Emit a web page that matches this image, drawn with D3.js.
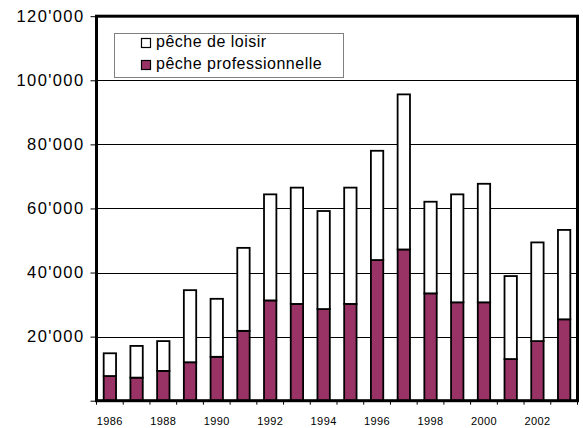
<!DOCTYPE html>
<html>
<head>
<meta charset="utf-8">
<script src="https://cdn.jsdelivr.net/npm/d3@7"></script>
<style>
  html, body { margin: 0; padding: 0; background: #fff; }
  svg { display: block; font-family: "Liberation Sans", Arial, sans-serif; }
</style>
</head>
<body>
<svg id="chart" width="583" height="428"></svg>
<script>
// Catches by year: recreational and professional fishing
const years = [1986, 1987, 1988, 1989, 1990, 1991, 1992, 1993, 1994, 1995, 1996, 1997, 1998, 1999, 2000, 2001, 2002, 2003];
const proValues    = [7700, 7200, 9300, 12000, 13700, 21800, 31300, 30200, 28600, 30200, 43900, 47200, 33500, 30700, 30700, 13000, 18600, 25400];
const loisirValues = [7100, 9900, 9300, 22500, 18100, 25900, 33100, 36300, 30600, 36300, 34100, 48400, 28600, 33700, 37000, 25900, 30800, 27900];
const seriesNames = ["pêche de loisir", "pêche professionnelle"];
const seriesColors = ["#ffffff", "#993366"];
const yTicks = [0, 20000, 40000, 60000, 80000, 100000, 120000];
const xLabelYears = [1986, 1988, 1990, 1992, 1994, 1996, 1998, 2000, 2002];

const svg = d3.select("#chart");
const plotLeft = 96.5, plotRight = 577.5, plotTop = 16.2, plotBottom = 400.7;

const x = d3.scaleBand().domain(years).range([plotLeft, plotRight]).paddingInner(0.5).paddingOuter(0.25);
const y = d3.scaleLinear().domain([0, 120000]).range([plotBottom, plotTop]);

const fmt = d3.formatLocale({ decimal: ".", thousands: "'", grouping: [3], currency: ["", ""] }).format(",");

// horizontal gridlines
svg.append("g")
  .selectAll("line")
  .data(yTicks.filter(d => d > 0 && d < 120000))
  .join("line")
  .attr("x1", plotLeft).attr("x2", plotRight)
  .attr("y1", d => Math.round(y(d)) + 0.5).attr("y2", d => Math.round(y(d)) + 0.5)
  .attr("stroke", "#000").attr("stroke-width", 1);

// stacked bars
const rows = years.map((yr, i) => ({ year: yr, pro: proValues[i], loisir: loisirValues[i] }));
const stack = d3.stack().keys(["pro", "loisir"])(rows);
const colorByKey = { pro: seriesColors[1], loisir: seriesColors[0] };

svg.append("g")
  .selectAll("g")
  .data(stack)
  .join("g")
  .attr("fill", d => colorByKey[d.key])
  .selectAll("rect")
  .data(d => d)
  .join("rect")
  .attr("x", d => x(d.data.year) + 0.5)
  .attr("width", x.bandwidth() - 1)
  .attr("y", d => y(d[1]))
  .attr("height", d => y(d[0]) - y(d[1]))
  .attr("stroke", "#000")
  .attr("stroke-width", 1.8);

// frame of the plot area
svg.append("rect")
  .attr("x", plotLeft).attr("y", plotTop)
  .attr("width", plotRight - plotLeft).attr("height", plotBottom - plotTop)
  .attr("fill", "none").attr("stroke", "#000").attr("stroke-width", 3);

// y axis
const yAxis = svg.append("g")
  .attr("transform", `translate(${plotLeft},0)`)
  .call(d3.axisLeft(y).tickValues(yTicks).tickSize(6).tickPadding(8)
    .tickFormat(d => d === 0 ? "" : fmt(d)));
yAxis.select(".domain").remove();
yAxis.selectAll("line").attr("stroke", "#000").attr("stroke-width", 1);
yAxis.selectAll("text")
  .attr("fill", "#000")
  .style("font-size", "16.5px")
  .style("letter-spacing", "1.4px")
  .attr("x", -12);

// x axis: ticks on category boundaries, labels every other year
const xAxis = svg.append("g").attr("transform", `translate(0,${plotBottom})`);
xAxis.selectAll("line")
  .data(years.concat([null]))
  .join("line")
  .attr("x1", (d, i) => plotLeft + i * x.step())
  .attr("x2", (d, i) => plotLeft + i * x.step())
  .attr("y1", 0).attr("y2", 4)
  .attr("stroke", "#000").attr("stroke-width", 1);
xAxis.selectAll("text")
  .data(xLabelYears)
  .join("text")
  .attr("x", d => x(d) + x.bandwidth() / 2)
  .attr("y", 24)
  .attr("text-anchor", "middle")
  .attr("fill", "#000")
  .style("font-size", "11px")
  .style("letter-spacing", "0.4px")
  .text(d => d);

// legend
const legend = svg.append("g");
legend.append("rect")
  .attr("x", 114.5).attr("y", 33.5).attr("width", 229).attr("height", 44)
  .attr("fill", "#fff").attr("stroke", "#808080").attr("stroke-width", 1);
const items = legend.selectAll("g.item")
  .data(seriesNames)
  .join("g")
  .attr("class", "item")
  .attr("transform", (d, i) => `translate(141,${38 + i * 22})`);
items.append("rect")
  .attr("x", 0.5).attr("y", 0.5).attr("width", 9).attr("height", 9)
  .attr("fill", (d, i) => seriesColors[i])
  .attr("stroke", "#000").attr("stroke-width", 1.2);
items.append("text")
  .attr("x", 15).attr("y", 9)
  .attr("fill", "#000")
  .style("font-size", "16px")
  .style("letter-spacing", "0.5px")
  .text(d => d);
</script>
</body>
</html>
